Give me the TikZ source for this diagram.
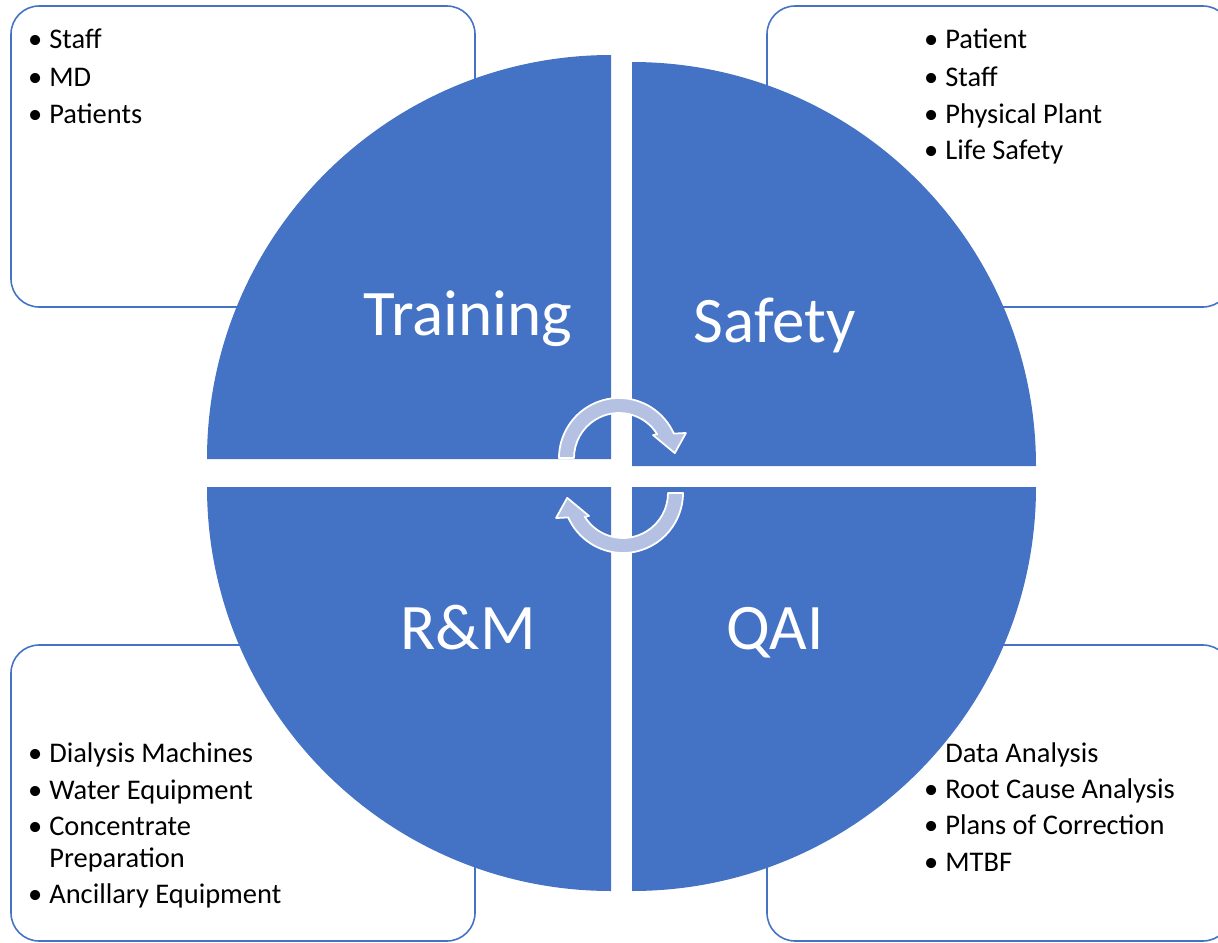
\documentclass[tikz,border=0pt]{standalone}
\usepackage{fontspec}
\setmainfont{Carlito}
\definecolor{quadblue}{RGB}{68,114,196}
\definecolor{arrowfill}{RGB}{180,193,226}
\newcommand\itembullet{\llap{•\hspace{4pt}}}

\begin{document}
\begin{tikzpicture}[x=0.02cm,y=-0.02cm,
    notebox/.style={draw=quadblue,line width=0.9pt,fill=white,rounded corners=16pt},
    quadrant/.style={fill=quadblue},
    item/.style={anchor=base west,inner sep=0pt,align=left,
        font={\fontsize{16.2}{18.1}\selectfont}},
    label/.style={anchor=base,inner sep=0pt,text=white,
        font={\fontsize{37}{40}\selectfont}},
    cyclearrow/.style={fill=arrowfill,draw=white,line width=1pt,line join=round}]
\useasboundingbox (0,0) rectangle (1218,943);
\clip (0,0) rectangle (1218,943);

\draw[notebox] (11,6) rectangle (475,307);
\draw[notebox] (767,6) rectangle (1231,307);
\draw[notebox] (11,645) rectangle (475,941);
\draw[notebox] (767,645) rectangle (1231,941);

\fill[quadrant] (611,459) -- (207,459) arc[start angle=180,end angle=270,radius=404] -- cycle;
\fill[quadrant] (632,466) -- (632,62) arc[start angle=270,end angle=360,radius=404] -- cycle;
\fill[quadrant] (611,487) -- (611,891) arc[start angle=90,end angle=180,radius=404] -- cycle;
\fill[quadrant] (632,487) -- (1036,487) arc[start angle=0,end angle=90,radius=404] -- cycle;

\node[label] (training) at (468,335) {Training};
\node[label] (safety) at (775,342) {Safety};
\node[label] (rm) at (468,649) {R\&M};
\node[label] (qai) at (775,649) {QAI};

\coordinate (tc) at (619,458);
\coordinate (bc) at (623,493);
\draw[cyclearrow] ([shift={(180:60)}]tc) arc[start angle=180,end angle=336,radius=60]
    -- ([shift={(339.5:71.5)}]tc) -- ([shift={(355:56)}]tc) -- ([shift={(326:41)}]tc)
    -- ([shift={(328:45)}]tc) arc[start angle=328,end angle=180,radius=45] -- cycle;
\draw[cyclearrow] ([shift={(0:60)}]bc) arc[start angle=0,end angle=156,radius=60]
    -- ([shift={(159.5:71.5)}]bc) -- ([shift={(175:56)}]bc) -- ([shift={(146:41)}]bc)
    -- ([shift={(148:45)}]bc) arc[start angle=148,end angle=0,radius=45] -- cycle;

\node[item] (tl1) at (49,49) {\itembullet Staff};
\node[item] (tl2) at (49,86) {\itembullet MD};
\node[item] (tl3) at (49,123) {\itembullet Patients};

\node[item] (tr1) at (945,49) {\itembullet Patient};
\node[item] (tr2) at (945,86) {\itembullet Staff};
\node[item] (tr3) at (945,123) {\itembullet Physical Plant};
\node[item] (tr4) at (945,159) {\itembullet Life Safety};

\node[item] (bl1) at (49,762) {\itembullet Dialysis Machines};
\node[item] (bl2) at (49,799) {\itembullet Water Equipment};
\node[item] (bl3) at (49,867) {\itembullet Concentrate\\Preparation};
\node[item] (bl4) at (49,903) {\itembullet Ancillary Equipment};

\node[item] (br1) at (945,762) {Data Analysis};
\node[item] (br2) at (945,798) {\itembullet Root Cause Analysis};
\node[item] (br3) at (945,834) {\itembullet Plans of Correction};
\node[item] (br4) at (945,871) {\itembullet MTBF};
\end{tikzpicture}
\end{document}
